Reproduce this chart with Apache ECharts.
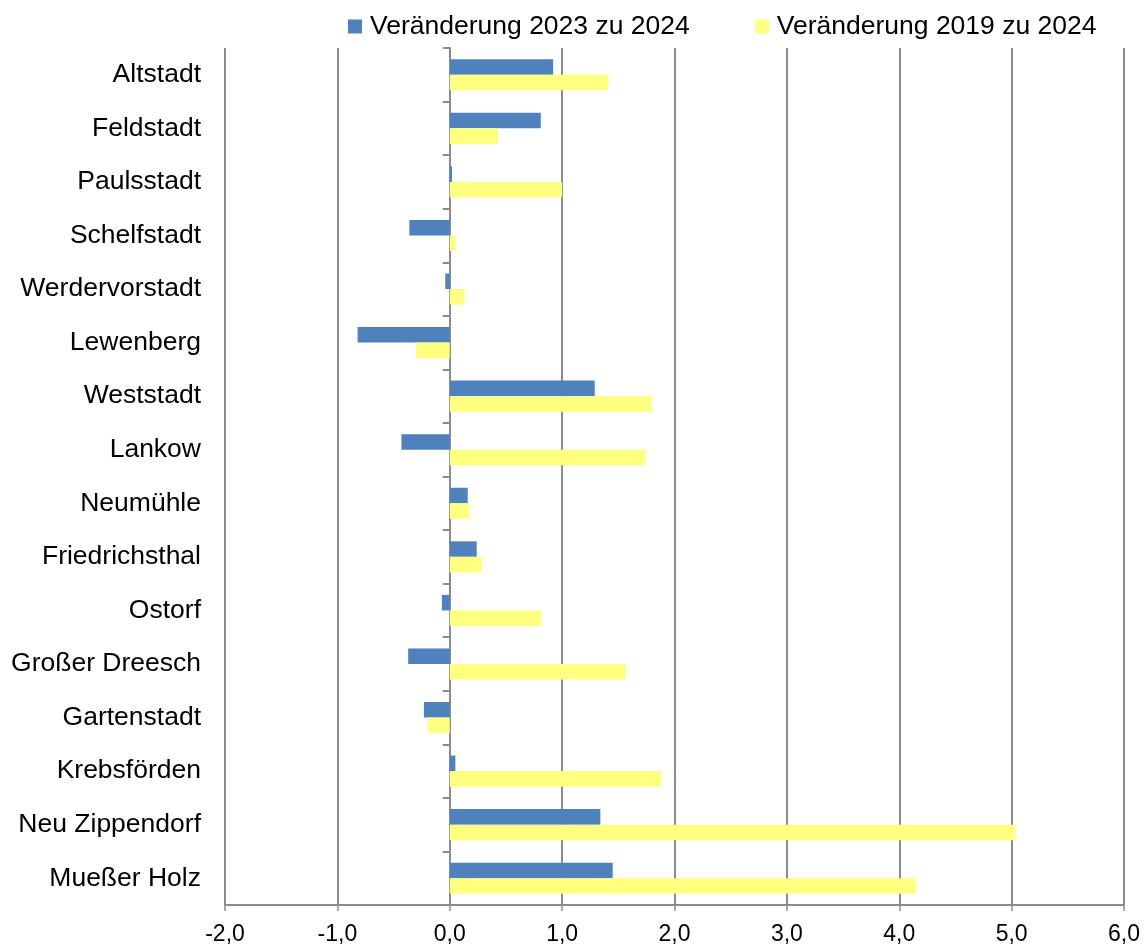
<!DOCTYPE html>
<html><head><meta charset="utf-8">
<script src="https://cdn.jsdelivr.net/npm/echarts@6/dist/echarts.min.js"></script>
<style>html,body{margin:0;padding:0;background:#fff}#c{width:1147px;height:947px}</style>
</head><body><div id="c"></div>
<script>
const categories = ["Altstadt","Feldstadt","Paulsstadt","Schelfstadt","Werdervorstadt","Lewenberg","Weststadt","Lankow","Neumühle","Friedrichsthal","Ostorf","Großer Dreesch","Gartenstadt","Krebsförden","Neu Zippendorf","Mueßer Holz"];
const change2023 = [0.92,0.81,0.02,-0.36,-0.04,-0.82,1.29,-0.43,0.16,0.24,-0.07,-0.37,-0.23,0.05,1.34,1.45];
const change2019 = [1.41,0.43,1.00,0.05,0.13,-0.30,1.80,1.74,0.17,0.28,0.81,1.56,-0.20,1.88,5.03,4.15];
const seriesNames = ["Veränderung 2023 zu 2024","Veränderung 2019 zu 2024"];
const font = "Liberation Sans, Arial, sans-serif";
const chart = echarts.init(document.getElementById('c'), null, {renderer:'canvas'});
chart.setOption({
  animation:false,
  legend:{top:8,left:343,itemWidth:14,itemHeight:14,itemGap:65,icon:'rect',
    textStyle:{fontFamily:font,fontSize:26.5,color:'#000',padding:[0,0,0,3]},data:seriesNames},
  grid:{left:225,right:23,top:48,bottom:42},
  xAxis:{type:'value',min:-2,max:6,interval:1,
    axisLine:{show:true,onZero:false,lineStyle:{color:'#8c8c8c',width:2}},
    axisTick:{show:true,length:6,lineStyle:{color:'#8c8c8c',width:1.5}},
    splitLine:{show:true,lineStyle:{color:'#8c8c8c',width:2}},
    axisLabel:{fontFamily:font,fontSize:23,color:'#000',margin:18,
      formatter:v=>v.toFixed(1).replace('.',',')}},
  yAxis:[{type:'category',data:categories,inverse:true,
      axisLine:{show:false,onZero:false},axisTick:{show:false},
      axisLabel:{fontFamily:font,fontSize:26.5,color:'#000',margin:24}},
    {type:'category',data:categories,inverse:true,position:'left',
      axisLine:{show:true,onZero:true,lineStyle:{color:'#8c8c8c',width:2}},
      axisTick:{show:true,length:7,lineStyle:{color:'#8c8c8c',width:2}},
      axisLabel:{show:false}}],
  series:[
    {name:seriesNames[0],type:'bar',data:change2023,barGap:'0%',barCategoryGap:'42%',
      itemStyle:{color:'#4F81BD'}},
    {name:seriesNames[1],type:'bar',data:change2019,itemStyle:{color:'#FFFF80'}}
  ]
});
</script></body></html>
